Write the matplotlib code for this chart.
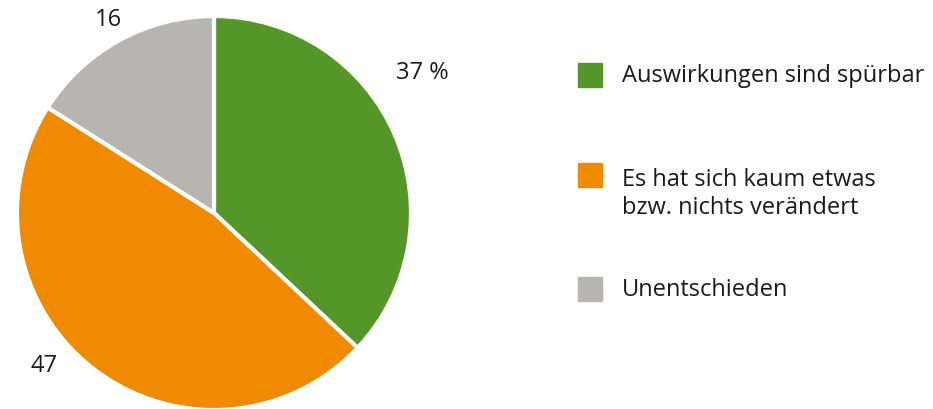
import matplotlib.pyplot as plt

# Daten
kategorien = ['Auswirkungen sind spürbar',
              'Es hat sich kaum etwas\nbzw. nichts verändert',
              'Unentschieden']
werte = [37, 47, 16]
beschriftung = ['37 %', '47', '16']
farben = ['#549628', '#F08A00', '#B6B5AF']

plt.rcParams['font.family'] = ['Open Sans', 'DejaVu Sans']

W, H = 933, 410
fig = plt.figure(figsize=(W / 100, H / 100), dpi=100)

# Kreis: Mittelpunkt (214, 214) px, Radius 197 px
cx, cy, r = 214, 214, 197
ax = fig.add_axes([(cx - r) / W, (H - cy - r) / H, 2 * r / W, 2 * r / H])
ax.pie(werte, colors=farben, startangle=90, counterclock=False, radius=1,
       wedgeprops=dict(edgecolor='white', linewidth=3))
ax.set_xlim(-1, 1)
ax.set_ylim(-1, 1)
ax.set_aspect('equal')
ax.axis('off')

# Beschriftungen der Segmente
pos = [(1.055, 0.715), (-0.862, -0.77), (-0.536, 0.985)]
for (x, y), t in zip(pos, beschriftung):
    ax.text(x, y, t, ha='center', va='center', fontsize=17, color='#1a1a1a',
            clip_on=False)

# Legende
leg_y = [76, 176, 290]
for yy, k, f in zip(leg_y, kategorien, farben):
    fig.patches.append(plt.Rectangle((578 / W, 1 - (yy + 12) / H), 24 / W, 24 / H,
                                     transform=fig.transFigure, color=f))
    fig.text(622 / W, 1 - yy / H if '\n' not in k else 1 - (yy + 18) / H, k,
             ha='left', va='center', fontsize=17, color='#1a1a1a',
             linespacing=1.25)

fig.savefig('out.png', dpi=100, facecolor='white')
